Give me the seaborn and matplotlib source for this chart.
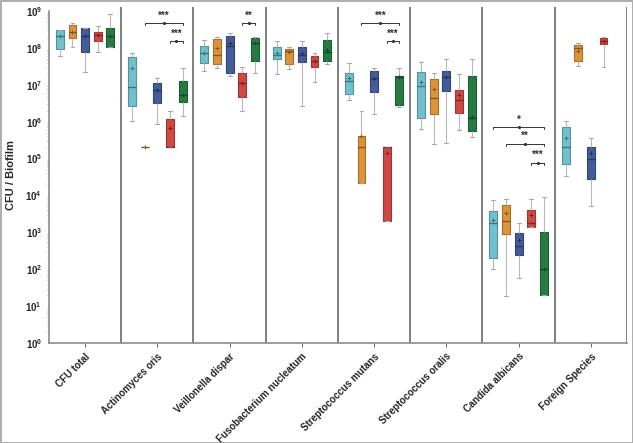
import numpy as np
import pandas as pd
import matplotlib
matplotlib.use("Agg")
import matplotlib.pyplot as plt
import matplotlib.colors as mcolors
from matplotlib.ticker import LogLocator, FixedFormatter, NullFormatter
import seaborn as sns

# categories and groups
species = ["CFU total", "Actinomyces oris", "Veillonella dispar", "Fusobacterium nucleatum",
           "Streptococcus mutans", "Streptococcus oralis", "Candida albicans", "Foreign Species"]
groups = ["G1", "G2", "G3", "G4", "G5"]
colors = ["#60cddd", "#f7951f", "#3755a9", "#e8322b", "#18893f"]

# box statistics (None = no box)
wmin = [[6e7, 1.05e8, 2.2e7, 7.7e7, 1.05e8],
        [1.05e6, 2e5, 8.6e5, 2e5, 1.4e6],
        [2.3e7, 2.8e7, 1.7e7, 2e6, 2.1e7],
        [1.95e7, 2.7e7, 2.6e6, 1.2e7, 3.6e7],
        [3.9e6, 2.2e4, 1.6e6, 2e3, 2.5e6],
        [6.3e5, 2.5e5, 2.6e5, 5.9e5, 3.8e5],
        [100, 19, 58, 1.4e3, 20],
        [3.4e4, 3.2e7, 5.1e3, 3e7, None]]
q1 = [[9.3e7, 1.85e8, 7.7e7, 1.5e8, 1.05e8],
      [2.6e6, 2e5, 3.2e6, 2e5, 3.4e6],
      [3.9e7, 3.6e7, 2.1e7, 4.6e6, 4.4e7],
      [5e7, 3.6e7, 4.1e7, 3e7, 4.4e7],
      [5.6e6, 2.2e4, 6.3e6, 2e3, 2.8e6],
      [1.25e6, 1.6e6, 6.8e6, 1.7e6, 5.6e5],
      [200, 900, 240, 1.4e3, 20],
      [7.1e4, 4.4e7, 2.8e4, 1.26e8, None]]
med = [[2.1e8, 2.7e8, 2.1e8, 2.2e8, 2.1e8],
       [8.7e6, 2e5, 7.2e6, 2e5, 5.2e6],
       [7.2e7, 6.3e7, 1.1e8, 1.1e7, 1.35e8],
       [6.3e7, 8.1e7, 6.3e7, 4.4e7, 7.7e7],
       [1.26e7, 2e5, 1.5e7, 2e5, 1.6e7],
       [9.2e6, 4.4e6, 1.6e7, 3.9e6, 1.25e6],
       [1.8e3, 2e3, 430, 1.8e3, 100],
       [2e5, 9.8e7, 1e5, 1.5e8, None]]
q3 = [[3e8, 4.1e8, 3.5e8, 2.7e8, 3.5e8],
      [5.6e7, 2e5, 1.1e7, 1.2e6, 1.26e7],
      [1.1e8, 1.7e8, 2.1e8, 2.1e7, 1.85e8],
      [1.05e8, 9.3e7, 1.05e8, 6e7, 1.6e8],
      [2.1e7, 4.1e5, 2.3e7, 2e5, 1.7e7],
      [2.2e7, 1.4e7, 2.3e7, 7.2e6, 1.7e7],
      [3.8e3, 5.5e3, 950, 4e3, 1e3],
      [7.1e5, 1.2e8, 2e5, 1.85e8, None]]
wmax = [[3e8, 4.7e8, 3.5e8, 3.9e8, 8.3e8],
        [7.2e7, 2e5, 1.5e7, 2e6, 2.8e7],
        [1.6e8, 1.96e8, 2.5e8, 3e7, 2e8],
        [1.5e8, 1.05e8, 1.5e8, 7.2e7, 2.5e8],
        [3.9e7, 2e6, 2.8e7, 2e5, 2.8e7],
        [4.1e7, 2.1e7, 5e7, 1.95e7, 5e7],
        [7.5e3, 8e3, 1.8e3, 8e3, 9e3],
        [1.05e6, 1.35e8, 3.6e5, 1.96e8, None]]
means = [[2.1e8, 2.7e8, 2.1e8, 2.2e8, 2.1e8],
         [2.8e7, 2e5, 7.2e6, 6.7e5, 5.2e6],
         [7.2e7, 9.8e7, 1.35e8, 1.1e7, 1.35e8],
         [7.2e7, 7.7e7, 7.2e7, 4.4e7, 8.8e7],
         [1.5e7, 4.1e5, 1.4e7, 1.4e5, 1.6e7],
         [1.2e7, 7.6e6, 1.6e7, 5.2e6, 1.3e6],
         [2.2e3, 3.3e3, 620, 2.9e3, 100],
         [3.6e5, 8.2e7, 1.4e5, 1.5e8, None]]

# significance brackets: (species index, group from, group to, height, label)
sig = [(1, 1, 4, 4.7e8, "***"), (1, 3, 4, 1.5e8, "***"),
       (2, 3, 4, 4.7e8, "**"),
       (4, 1, 4, 4.7e8, "***"), (4, 3, 4, 1.5e8, "***"),
       (6, 0, 4, 7.1e5, "*"), (6, 1, 4, 2.5e5, "**"), (6, 3, 4, 7.6e4, "***")]

rows = []
for i, sp in enumerate(species):
    for j, g in enumerate(groups):
        if med[i][j] is None:
            continue
        for v in (wmin[i][j], q1[i][j], med[i][j], q3[i][j], wmax[i][j]):
            rows.append({"species": sp, "group": g, "cfu": v})
df = pd.DataFrame(rows)

sns.set_style("white")
plt.rcParams["font.family"] = ["Liberation Sans", "DejaVu Sans"]
plt.rcParams["mathtext.fontset"] = "custom"
plt.rcParams["mathtext.rm"] = "Liberation Sans"
plt.rcParams["mathtext.bf"] = "Liberation Sans:bold"

fig = plt.figure(figsize=(6.33, 4.43), dpi=100)
ax = fig.add_axes([49 / 633, 1 - 343 / 443, 578 / 633, 336 / 443])

width = 0.875
sns.boxplot(data=df, x="species", y="cfu", hue="group", order=species, hue_order=groups,
            palette=colors, width=width, gap=0.38, whis=(0, 100), showfliers=False,
            log_scale=True, legend=False, linewidth=0.8, ax=ax,
            whiskerprops={"color": "#b8b8b8", "linewidth": 0.8},
            capprops={"color": "#a8a8a8", "linewidth": 0.8},
            medianprops={"color": "black", "alpha": 0.4, "linewidth": 1.0})

for p in ax.patches:
    fc = np.array(mcolors.to_rgb(p.get_facecolor()))
    p.set_edgecolor(fc * 0.75)

# mean markers
step = width / len(groups)
for i in range(len(species)):
    for j in range(len(groups)):
        if means[i][j] is None:
            continue
        x = i + (j - 2) * step
        ax.plot(x, means[i][j], marker="+", ms=3, mew=0.7,
                color=np.array(mcolors.to_rgb(colors[j])) * 0.55, zorder=5)

# significance brackets
for i, a, b, h, lab in sig:
    x0 = i + (a - 2) * step
    x1 = i + (b - 2) * step
    lo = h / 1.12
    ax.plot([x0, x0, x1, x1], [lo, h, h, lo], color="#333333", lw=0.7)
    ax.plot((x0 + x1) / 2, h, marker=".", ms=2.5, color="#333333")
    ax.text((x0 + x1) / 2, h * 1.18, lab, ha="center", va="bottom", fontsize=7,
            fontweight="bold", color="#333333")

# separators
for k in range(len(species)):
    ax.axvline(k + 0.5, color="#808080", lw=1.4, zorder=0)

ax.set_xlim(-0.5, len(species) - 0.5)
ax.set_ylim(1, 1.28e9)
ax.yaxis.set_major_locator(LogLocator(base=10, numticks=12))
ax.yaxis.set_minor_locator(LogLocator(base=10, subs=np.arange(2, 10), numticks=12))
ax.set_yticks([10.0 ** k for k in range(10)])
ax.yaxis.set_major_formatter(FixedFormatter([r"$\mathbf{10^{%d}}$" % k for k in range(10)]))
ax.yaxis.set_minor_formatter(NullFormatter())

ax.set_xlabel("")
ax.set_ylabel("CFU / Biofilm", fontsize=8, fontweight="bold", labelpad=7)
ax.set_xticks(range(len(species)))
ax.set_xticklabels(species, rotation=45, ha="right", rotation_mode="anchor",
                   fontsize=6.5, fontweight="bold")

for s in ["top", "right"]:
    ax.spines[s].set_visible(False)
for s in ["left", "bottom"]:
    ax.spines[s].set_color("#8c8c8c")
    ax.spines[s].set_linewidth(1.2)
ax.spines["left"].set_bounds(1, 1e9)
ax.tick_params(axis="both", which="major", direction="out", length=3, width=0.7,
               color="#666666", labelsize=7, pad=2)
ax.tick_params(axis="y", which="minor", direction="out", length=1.5, width=0.5,
               color="#888888", left=True)
ax.tick_params(axis="x", which="major", length=3, pad=3, bottom=True)

fig.patch.set_edgecolor("#b0b0b0")
fig.patch.set_linewidth(2)
fig.savefig("out.png", dpi=100, edgecolor=fig.get_edgecolor())
